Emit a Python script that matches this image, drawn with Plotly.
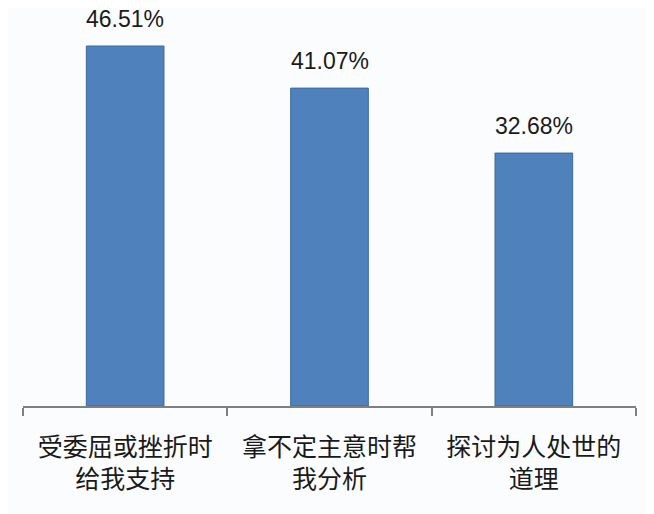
import plotly.graph_objects as go

categories = ["受委屈或挫折时<br>给我支持", "拿不定主意时帮<br>我分析", "探讨为人处世的<br>道理"]
values = [46.51, 41.07, 32.68]
labels = ["46.51%", "41.07%", "32.68%"]

fig = go.Figure()
fig.add_trace(go.Bar(
    x=categories, y=values,
    marker=dict(color="#4F81BD", line=dict(color="#3C6A9E", width=1)),
    width=0.38,
))

for c, v, t in zip(categories, values, labels):
    fig.add_annotation(x=c, y=v, text=t, showarrow=False, yanchor="bottom", yshift=12,
                       font=dict(size=23, color="#1a1a1a", family="Liberation Sans, Arial, sans-serif"))

# page has an 8px body margin, so the figure is sized 8px smaller
fig.update_layout(
    width=646, height=506,
    margin=dict(l=15, r=18, t=11, b=108),
    paper_bgcolor="#FBFCFE", plot_bgcolor="#FBFCFE",
    font=dict(family="Noto Sans CJK SC, Liberation Sans, sans-serif", color="#1a1a1a"),
    showlegend=False,
)
fig.update_xaxes(
    automargin=False,
    showline=True, linecolor="#808080", linewidth=1.5,
    ticks="outside", tickson="boundaries", ticklen=8, tickcolor="#808080", tickwidth=1.5,
    ticklabelstandoff=18,
    tickfont=dict(size=25, family="Noto Sans CJK SC, sans-serif", color="#1a1a1a"),
    showgrid=False,
)
fig.update_yaxes(range=[0, 50], visible=False, showgrid=False, automargin=False)

fig.write_html("out.html")
